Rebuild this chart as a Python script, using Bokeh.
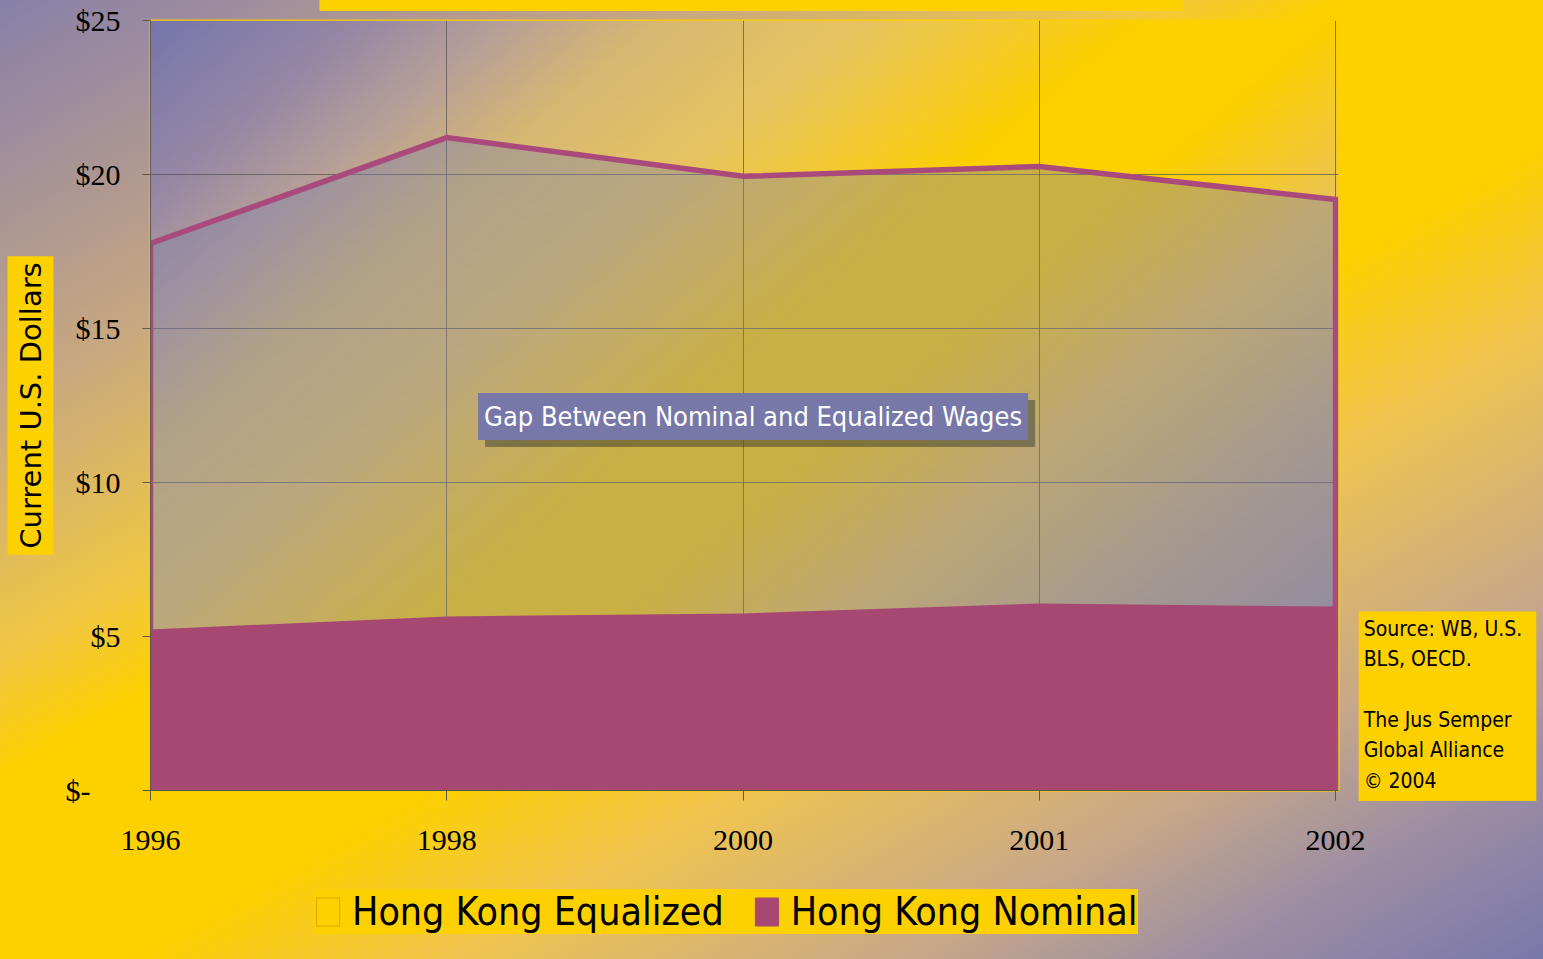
import numpy as np
from bokeh.plotting import figure
from bokeh.layouts import column
from bokeh.models import Range1d, FixedTicker, Label, Legend, LegendItem
from bokeh.embed import file_html
from bokeh.resources import INLINE

# ---------------- data ----------------
years = ["1996", "1998", "2000", "2001", "2002"]
equalized = [17.76, 21.2, 19.94, 20.26, 19.19]
nominal = [5.23, 5.65, 5.75, 6.07, 5.97]
y_ticks = [0, 5, 10, 15, 20, 25]
y_tick_labels = ["$-\u00a0\u00a0\u00a0\u00a0", "$5", "$10", "$15", "$20", "$25"]
series_names = ["Hong Kong Equalized", "Hong Kong Nominal"]
y_title = "Current U.S. Dollars"
gap_text = "Gap Between Nominal and Equalized Wages"
note_text = "Source: WB, U.S.\nBLS, OECD.\n\nThe Jus Semper\nGlobal Alliance\n\u00a9 2004"

x = list(range(len(years)))
X_MAX = 4.01
NARROW = "DejaVu Sans Condensed, Liberation Sans Narrow, Lato, sans-serif"
SERIF = "Liberation Serif"
YELLOW = "#fdd000"
MAGENTA = "#a64872"

FRAME_W, FRAME_H = 1188, 770
p = figure(frame_width=FRAME_W, frame_height=FRAME_H,
           min_border_left=150, min_border_right=205,
           min_border_top=20, min_border_bottom=95,
           x_range=Range1d(0, X_MAX), y_range=Range1d(0, 25),
           output_backend="svg", toolbar_location=None,
           background_fill_color=None, border_fill_color=None)

p.outline_line_color = YELLOW
p.outline_line_width = 2

# ---------- plot-area gradient (decorative styling) ----------
W, H = 396, 257
stops_t = [0.00, 0.10, 0.17, 0.24, 0.34, 0.42, 0.47, 0.56, 0.66, 0.80, 0.90, 1.00]
stops_c = [(118, 118, 172), (150, 136, 165), (184, 160, 152), (214, 184, 115),
           (232, 196, 96), (246, 204, 40), (253, 208, 0), (253, 208, 0),
           (236, 196, 80), (190, 168, 130), (165, 150, 150), (140, 135, 168)]
dx, dy = 0.643, 0.766
ii, jj = np.meshgrid(np.arange(W), np.arange(H))
px = (ii + 0.5) / W * FRAME_W
py_down = (1 - (jj + 0.5) / H) * FRAME_H
glen = FRAME_W * dx + FRAME_H * dy
t = 0.5 + ((px - FRAME_W / 2) * dx + (py_down - FRAME_H / 2) * dy) / glen
rgba = np.zeros((H, W, 4), dtype=np.uint8)
for ch in range(3):
    rgba[:, :, ch] = np.interp(t, stops_t, [c[ch] for c in stops_c]).astype(np.uint8)
rgba[:, :, 3] = 255
img = rgba.view(dtype=np.uint32).reshape((H, W))
p.image_rgba(image=[img], x=0, y=0, dw=X_MAX, dh=25, level="image")

# ---------- series ----------
eq_x = [x[0]] + x + [x[-1]]
eq_y = [0] + equalized + [0]
p.patch(eq_x, eq_y, fill_color="#7a80ac", fill_alpha=0.4,
        line_color="#aa4a7c", line_width=5.5, line_join="miter")
p.varea(x=x, y1=[0] * len(x), y2=nominal, fill_color=MAGENTA)

# ---------- axes ----------
p.xaxis.ticker = FixedTicker(ticks=x)
p.xaxis.major_label_overrides = {i: yr for i, yr in zip(x, years)}
p.yaxis.ticker = FixedTicker(ticks=y_ticks)
p.yaxis.major_label_overrides = {v: s for v, s in zip(y_ticks, y_tick_labels)}
for ax in (p.xaxis, p.yaxis):
    ax.major_label_text_font = SERIF
    ax.major_label_text_font_size = "30px"
    ax.major_label_text_color = "#000000"
    ax.axis_line_color = "#5f5a48"
    ax.major_tick_line_color = "#5f5a48"
    ax.minor_tick_line_color = None
    ax.major_tick_in = 0
p.xaxis.major_tick_out = 10
p.xaxis.major_label_standoff = 30
p.yaxis.major_tick_out = 8
p.yaxis.major_label_standoff = 22

p.grid.grid_line_color = "#505050"
p.grid.grid_line_alpha = 0.7
p.grid.grid_line_width = 1

# ---------- annotations ----------
# empty yellow title strip at the very top
p.add_layout(Label(x=2.027, y=25.49, text="\u00a0", text_font_size="4px",
                   text_align="center", text_baseline="middle",
                   background_fill_color=YELLOW,
                   padding=dict(left=431, right=431, top=3, bottom=3)), "above")

p.add_layout(Label(x=-0.405, y=12.5, text=y_title, angle=np.pi / 2,
                   text_align="center", text_baseline="middle",
                   text_font="DejaVu Sans", text_font_size="29px",
                   text_color="#000000", background_fill_color=YELLOW,
                   padding=6), "left")

gap_x, gap_y = 2.034, 12.14
gap_pad = dict(left=6, right=6, top=8, bottom=8)
p.add_layout(Label(x=gap_x, y=gap_y, x_offset=7, y_offset=-7, text=gap_text,
                   text_align="center", text_baseline="middle",
                   text_font=NARROW, text_font_size="27px",
                   text_color="#3a3a30", text_alpha=0.01,
                   background_fill_color="#3a3a30", background_fill_alpha=0.5,
                   padding=gap_pad))
p.add_layout(Label(x=gap_x, y=gap_y, text=gap_text,
                   text_align="center", text_baseline="middle",
                   text_font=NARROW, text_font_size="27px",
                   text_color="#ffffff", background_fill_color="#7878a8",
                   padding=gap_pad))

p.add_layout(Label(x=4.078, y=5.81, text=note_text,
                   text_align="left", text_baseline="top",
                   text_font=NARROW, text_font_size="21px",
                   text_line_height=1.27, text_color="#000000",
                   background_fill_color=YELLOW,
                   padding=dict(left=5, right=14, top=5, bottom=8)), "right")

# ---------- legend strip (own canvas, directly under the chart) ----------
leg_h = 959 - (20 + FRAME_H + 95)
pl = figure(width=1543, height=leg_h, min_border=0,
            x_axis_location=None, y_axis_location=None,
            x_range=Range1d(0, 1), y_range=Range1d(0, 1),
            output_backend="svg", toolbar_location=None,
            background_fill_color=None, border_fill_color=None)
pl.outline_line_color = None
pl.grid.visible = False
# swatch-only renderers (a single NaN row: nothing is drawn in the strip)
eq_swatch = pl.quad(left=[np.nan], right=[np.nan], top=[np.nan], bottom=[np.nan],
                    fill_color=YELLOW, line_color="#e3a200", line_width=1)
nom_swatch = pl.quad(left=[np.nan], right=[np.nan], top=[np.nan], bottom=[np.nan],
                     fill_color=MAGENTA, line_color=MAGENTA, line_width=1)
legend = Legend(items=[LegendItem(label=series_names[0], renderers=[eq_swatch]),
                       LegendItem(label=series_names[1], renderers=[nom_swatch])],
                location=(163, 25), orientation="horizontal",
                label_text_font=NARROW, label_text_font_size="39px",
                label_text_color="#000000",
                glyph_width=29, glyph_height=35, label_standoff=10,
                spacing=28, padding=11, margin=0,
                background_fill_color=YELLOW, background_fill_alpha=1,
                border_line_color=None)
pl.add_layout(legend)

page = column(p, pl, spacing=0)

html = file_html(page, INLINE, title="Hong Kong Nominal vs Equalized Wages")
css = ("<style>html{height:100%;overflow:hidden;background:linear-gradient(150deg,"
       "#8680a8 0%,#9a8aa0 6%,#c8a880 22%,#f2c840 36%,#fdd000 42%,"
       "#fdd000 56%,#f0c450 66%,#c8a888 80%,#9a8ca4 90%,#7a78aa 100%);}"
       "body{background:transparent;overflow:hidden;}</style>")
html = html.replace("</head>", css + "</head>", 1)
open("out.html", "w").write(html)
